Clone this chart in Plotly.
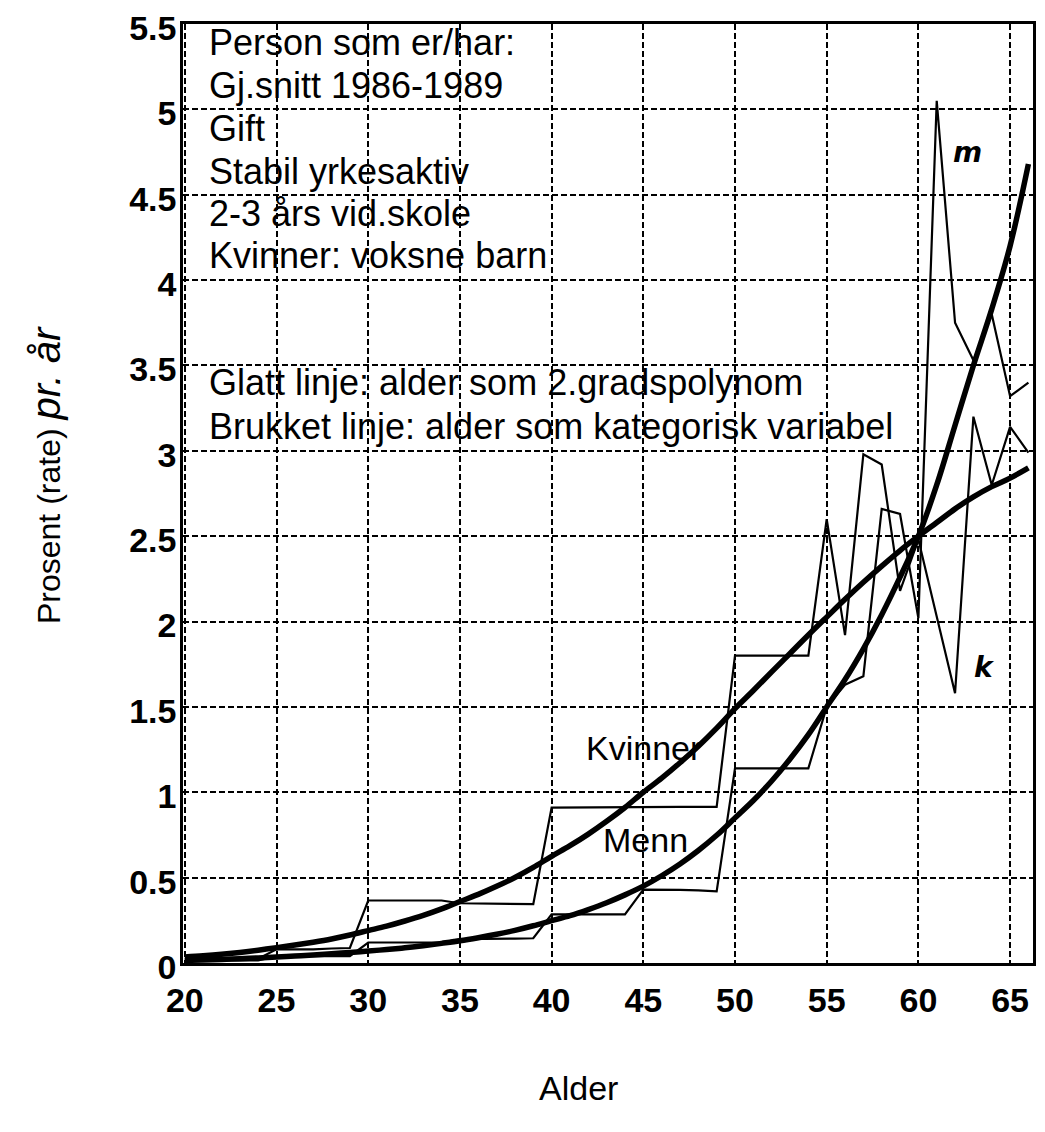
import plotly.graph_objects as go

ages = list(range(20, 67))

# Broken line: age as categorical variable (values per age)
kvinner_kat = [0.025, 0.025, 0.025, 0.025, 0.025,
               0.08, 0.08, 0.08, 0.085, 0.088,
               0.366, 0.366, 0.366, 0.366, 0.366,
               0.35, 0.349, 0.348, 0.346, 0.345,
               0.91, 0.91, 0.91, 0.91, 0.91,
               0.912, 0.913, 0.914, 0.915, 0.915,
               1.80, 1.80, 1.80, 1.80, 1.80,
               2.60, 1.92, 2.98, 2.92, 2.18, 2.48, 2.03, 1.58, 3.20, 2.80, 3.14, 2.99]
menn_kat = [0.015, 0.015, 0.015, 0.015, 0.015,
            0.04, 0.04, 0.04, 0.04, 0.04,
            0.12, 0.12, 0.12, 0.12, 0.12,
            0.14, 0.14, 0.142, 0.143, 0.145,
            0.285, 0.285, 0.285, 0.285, 0.285,
            0.43, 0.43, 0.428, 0.425, 0.42,
            1.14, 1.14, 1.14, 1.14, 1.14,
            1.50, 1.63, 1.68, 2.66, 2.63, 2.02, 5.05, 3.75, 3.53, 3.80, 3.32, 3.40]

# Smooth line: age as 2nd degree polynomial
kvinner_glatt = [0.035, 0.042, 0.051, 0.062, 0.075, 0.09, 0.105, 0.122, 0.141, 0.164,
                 0.19, 0.216, 0.246, 0.279, 0.317, 0.36, 0.402, 0.449, 0.501, 0.56,
                 0.625, 0.687, 0.755, 0.83, 0.911, 1.0, 1.083, 1.173, 1.27, 1.376,
                 1.49, 1.596, 1.705, 1.813, 1.921, 2.026, 2.13, 2.23, 2.325, 2.416,
                 2.5, 2.58, 2.66, 2.73, 2.79, 2.84, 2.9]
menn_glatt = [0.015, 0.018, 0.021, 0.025, 0.03, 0.035, 0.041, 0.047, 0.054, 0.062,
              0.07, 0.079, 0.089, 0.101, 0.115, 0.13, 0.148, 0.168, 0.191, 0.218,
              0.248, 0.277, 0.313, 0.353, 0.399, 0.45, 0.511, 0.58, 0.659, 0.748,
              0.85, 0.952, 1.066, 1.195, 1.338, 1.5, 1.66, 1.84, 2.04, 2.26,
              2.5, 2.8, 3.15, 3.5, 3.83, 4.2, 4.68]

x_ticks = [20, 25, 30, 35, 40, 45, 50, 55, 60, 65]
y_ticks = [0, 0.5, 1, 1.5, 2, 2.5, 3, 3.5, 4, 4.5, 5, 5.5]
y_ticktext = ["0", "0.5", "1", "1.5", "2", "2.5", "3", "3.5", "4", "4.5", "5", "5.5"]

info_lines = ["Person som er/har:", "Gj.snitt 1986-1989", "Gift", "Stabil yrkesaktiv",
              "2-3 års vid.skole", "Kvinner: voksne barn",
              "Glatt linje: alder som 2.gradspolynom",
              "Brukket linje: alder som kategorisk variabel"]
info_y = [5.39, 5.14, 4.888, 4.637, 4.391, 4.145, 3.40, 3.14]

FONT = "Liberation Sans, Arial, sans-serif"

fig = go.Figure()
for ys in (kvinner_kat, menn_kat):
    fig.add_trace(go.Scatter(x=ages, y=ys, mode="lines",
                             line=dict(color="black", width=2.2), showlegend=False))
for ys in (kvinner_glatt, menn_glatt):
    fig.add_trace(go.Scatter(x=ages, y=ys, mode="lines", line_shape="spline",
                             line=dict(color="black", width=5.5), showlegend=False))

ann = []
for t, yv in zip(info_lines, info_y):
    ann.append(dict(x=21.2, y=yv, xref="x", yref="y", text=t, showarrow=False,
                    xanchor="left", yanchor="middle",
                    font=dict(family=FONT, size=36, color="black")))
ann.append(dict(x=45.0, y=1.26, xref="x", yref="y", text="Kvinner", showarrow=False,
                font=dict(family=FONT, size=34, color="black")))
ann.append(dict(x=45.1, y=0.72, xref="x", yref="y", text="Menn", showarrow=False,
                font=dict(family=FONT, size=34, color="black")))
ann.append(dict(x=62.7, y=4.75, xref="x", yref="y", text="<b><i>m</i></b>", showarrow=False,
                font=dict(family="DejaVu Sans", size=28, color="black")))
ann.append(dict(x=63.6, y=1.73, xref="x", yref="y", text="<b><i>k</i></b>", showarrow=False,
                font=dict(family="DejaVu Sans", size=28, color="black")))
ann.append(dict(x=-0.162, y=0.52, xref="paper", yref="paper",
                text="Prosent (rate) <span style='font-size:40px'><i>pr. år</i></span>",
                showarrow=False, textangle=-90, xanchor="center", yanchor="middle",
                font=dict(family=FONT, size=32, color="black")))
ann.append(dict(x=0.465, y=-0.133, xref="paper", yref="paper", text="Alder",
                showarrow=False, xanchor="center", yanchor="middle",
                font=dict(family=FONT, size=34, color="black")))

fig.update_layout(
    width=1045, height=1132,
    margin=dict(l=183, r=9, t=23, b=169),
    paper_bgcolor="white", plot_bgcolor="white",
    annotations=ann,
    xaxis=dict(range=[19.9, 66.25], tickvals=x_ticks, showgrid=True, gridcolor="black",
               griddash="6px,3px", gridwidth=2, showline=True, linecolor="black",
               linewidth=2.5, mirror=True, ticks="", zeroline=False,
               ticklabelstandoff=5,
               tickfont=dict(family=FONT, size=34, color="black", weight="bold")),
    yaxis=dict(range=[0, 5.5], tickvals=y_ticks, ticktext=y_ticktext, showgrid=True,
               gridcolor="black", griddash="6px,3px", gridwidth=2, showline=True,
               linecolor="black", linewidth=2.5, mirror=True, ticks="", zeroline=False,
               ticklabelstandoff=-3, ticklabelshift=4,
               tickfont=dict(family=FONT, size=34, color="black", weight="bold")),
)

fig.write_html("out.html")
